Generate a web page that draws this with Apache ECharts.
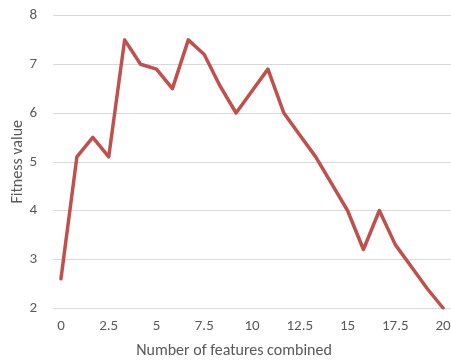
<!DOCTYPE html>
<html>
<head>
<meta charset="utf-8">
<script src="https://cdn.jsdelivr.net/npm/echarts@6/dist/echarts.min.js"></script>
<style>
  html, body { margin: 0; padding: 0; background: #ffffff; }
  #chart { width: 451px; height: 361px; }
</style>
</head>
<body>
<div id="chart"></div>
<script>
// Number of features combined (category labels)
var featureCounts = ['0', '0.83', '1.67', '2.5', '3.33', '4.17', '5', '5.83', '6.67', '7.5',
  '8.33', '9.17', '10', '10.83', '11.67', '12.5', '13.33', '14.17', '15', '15.83',
  '16.67', '17.5', '18.33', '19.17', '20'];

// Fitness value for each feature count
var fitnessValues = [2.6, 5.1, 5.5, 5.1, 7.5, 7.0, 6.9, 6.5, 7.5, 7.2,
  6.55, 6.0, 6.45, 6.9, 6.0, 5.55, 5.1, 4.55, 4.0, 3.2,
  4.0, 3.3, 2.85, 2.4, 2.0];

var xTitle = 'Number of features combined';
var yTitle = 'Fitness value';

var fontFamily = 'Carlito, Lato, "Open Sans", sans-serif';
var textColor = '#595959';

var chart = echarts.init(document.getElementById('chart'), null, { renderer: 'canvas' });
chart.setOption({
  animation: false,
  backgroundColor: '#ffffff',
  grid: { left: 53, right: 0, top: 15.5, bottom: 53, outerBoundsMode: 'none', containLabel: false },
  xAxis: {
    type: 'category',
    data: featureCounts,
    boundaryGap: true,
    axisLine: { show: false },
    axisTick: { show: false },
    axisLabel: {
      interval: 2,
      margin: 11,
      color: textColor,
      fontSize: 15,
      fontFamily: fontFamily
    },
    splitLine: { show: false }
  },
  yAxis: {
    type: 'value',
    min: 2,
    max: 8,
    interval: 1,
    name: yTitle,
    nameLocation: 'middle',
    nameGap: 27,
    nameMoveOverlap: false,
    nameTextStyle: { color: textColor, fontSize: 16, fontFamily: fontFamily },
    axisLine: { show: false },
    axisTick: { show: false },
    axisLabel: { margin: 16, color: textColor, fontSize: 15, fontFamily: fontFamily },
    splitLine: { lineStyle: { color: '#D9D9D9', width: 1 } }
  },
  graphic: [{
    type: 'text',
    x: 234,
    y: 351,
    style: {
      text: xTitle,
      fill: textColor,
      font: '16px ' + fontFamily,
      textAlign: 'center',
      textVerticalAlign: 'middle'
    }
  }],
  series: [{
    type: 'line',
    data: fitnessValues,
    symbol: 'none',
    lineStyle: { color: '#C0504D', width: 3.5, join: 'round', cap: 'round' },
    itemStyle: { color: '#C0504D' }
  }]
});
</script>
</body>
</html>
